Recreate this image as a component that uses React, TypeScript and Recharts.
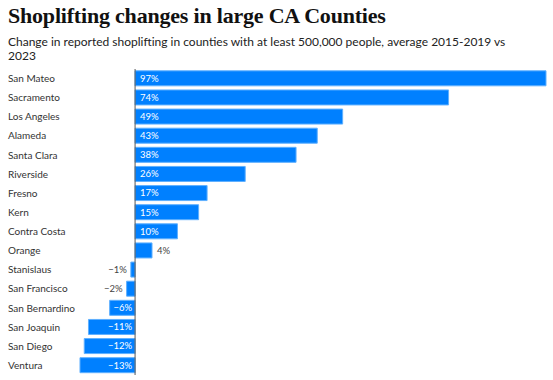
import React from 'react';
import { BarChart, Bar, XAxis, YAxis, ReferenceLine, LabelList, Cell } from 'recharts';

const counties = [
  'San Mateo', 'Sacramento', 'Los Angeles', 'Alameda', 'Santa Clara', 'Riverside', 'Fresno', 'Kern',
  'Contra Costa', 'Orange', 'Stanislaus', 'San Francisco', 'San Bernardino', 'San Joaquin', 'San Diego', 'Ventura',
];
const changes = [97, 74, 49, 43, 38, 26, 17, 15, 10, 4, -1, -2, -6, -11, -12, -13];

const data = counties.map((name, i) => ({ name, value: changes[i] }));

const BLUE = '#0080ff';
const FONT = 'Lato, "Open Sans", sans-serif';

// --- value labels: inside the bar when it fits, otherwise outside ---
const ValueLabel = (props: any) => {
  const { x, y, width, height, value } = props;
  const left = Math.min(x, x + width);
  const right = Math.max(x, x + width);
  const w = right - left;
  const text = value < 0 ? `\u2212${Math.abs(value)}%` : `${value}%`;
  const fits = w > 24;
  const cy = y + height / 2;
  let tx: number;
  let anchor: 'start' | 'end';
  if (value >= 0) {
    tx = fits ? left + 5 : right + 5;
    anchor = 'start';
  } else {
    tx = fits ? right - 3 : left - 4;
    anchor = 'end';
  }
  return (
    <text x={tx} y={cy} dy="0.35em" textAnchor={anchor} fontSize={9.5}
      fontFamily={FONT} fill={fits ? '#fff' : '#444'}>
      {text}
    </text>
  );
};

const CountyTick = (props: any) => {
  const { y, payload } = props;
  return (
    <text x={8} y={y} dy="0.35em" textAnchor="start" fontSize={10} fontFamily={FONT} fill="#333">
      {payload.value}
    </text>
  );
};

export default function App() {
  return (
    <div style={{ position: 'absolute', left: 0, top: 0, width: 553, height: 380, background: '#fff' }}>
      <div style={{ position: 'absolute', left: 8, top: 3, fontFamily: '"Liberation Serif", serif', fontWeight: 700,
        fontSize: 22, color: '#111', whiteSpace: 'nowrap', letterSpacing: -0.2 }}>
        Shoplifting changes in large CA Counties
      </div>
      <div style={{ position: 'absolute', left: 8, top: 35, fontFamily: FONT, fontSize: 12, lineHeight: '14px',
        color: '#222', whiteSpace: 'nowrap' }}>
        Change in reported shoplifting in counties with at least 500,000 people, average 2015-2019 vs<br />2023
      </div>
      <div style={{ position: 'absolute', left: 0, top: 0 }}>
        <BarChart width={553} height={380} data={data} layout="vertical"
          margin={{ top: 69, right: 7, bottom: 5, left: 0 }} barCategoryGap="9.5%">
          <XAxis type="number" domain={[-13, 97]} hide />
          <YAxis type="category" dataKey="name" width={80} axisLine={false} tickLine={false}
            interval={0} tick={<CountyTick />} />
          <Bar dataKey="value" fill={BLUE} stroke="#5fb0ff" strokeWidth={1} isAnimationActive={false}>
            {data.map((d, i) => (
              <Cell key={`c-${i}`} fill={BLUE} />
            ))}
            <LabelList dataKey="value" content={<ValueLabel />} />
          </Bar>
          <ReferenceLine x={0} stroke="#555" strokeWidth={1} />
        </BarChart>
      </div>
    </div>
  );
}
